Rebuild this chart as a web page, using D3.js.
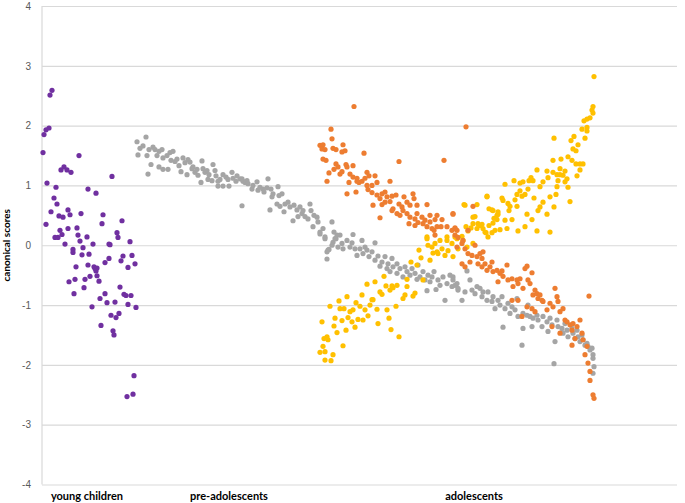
<!DOCTYPE html>
<html>
<head>
<meta charset="utf-8">
<script src="https://cdn.jsdelivr.net/npm/d3@7"></script>
<style>
  html, body { margin: 0; padding: 0; background: #fff; }
  svg { display: block; }
</style>
</head>
<body>
<svg id="chart" width="685" height="503"></svg>
<script>
// ---- data: [case index, canonical score] ----
const groupLabels = ["young children", "pre-adolescents", "adolescents"];
const groupLabelPos = [45, 187, 432];   // case index at label centre
const yTicks = [-4, -3, -2, -1, 0, 1, 2, 3, 4];

const youngChildren = [
[1,1.55],[2,1.85],[4,1.93],[7,1.96],[8,2.51],[10,2.59],[5,1.04],[14,0.97],[12,0.79],[15,0.69],[9,0.56],[4,0.35],
[19,1.26],[22,1.31],[25,1.26],[29,1.22],[37,1.5],[17,0.49],[21,0.47],[26,0.59],[28,0.51],[39,0.53],[46,0.94],[54,0.87],
[70,1.15],[61,0.51],[60,0.36],[80,0.41],[75,0.21],[76,0.13],[67,0.02],[68,0.01],[88,0.06],[13,0.13],[16,0.13],[18,0.25],
[20,0.18],[23,0.02],[26,0.28],[35,0.29],[36,0.17],[38,0.07],[41,-0.04],[45,0.14],[51,0.02],[31,-0.07],[31,-0.12],[40,-0.16],
[47,-0.15],[34,-0.36],[46,-0.33],[52,-0.36],[53,-0.39],[55,-0.38],[54,-0.43],[48,-0.52],[43,-0.57],[55,-0.51],[57,-0.6],
[33,-0.57],[27,-0.61],[32,-0.81],[42,-0.71],[50,-1.03],[58,-0.89],[63,-0.81],[65,-0.96],[59,-1.34],[69,-1.17],[74,-1.21],
[77,-1.14],[71,-1.43],[72,-1.5],[73,-0.95],[63,-0.29],[67,-0.22],[81,-0.18],[90,-0.17],[79,-0.26],[86,-0.37],[93,-0.31],
[78,-0.7],[82,-0.82],[84,-0.84],[89,-0.84],[86,-0.99],[94,-1.04],[92,-2.18],[91,-2.49],[85,-2.53]
];

const grayScores = [
[95,1.73],[104,1.81],[98,1.62],[101,1.66],[96,1.51],[105,1.5],[106,1.19],[109,1.35],[107,1.6],[111,1.64],[113,1.6],[115,1.5],
[117,1.31],[117,1.57],[120,1.6],[121,1.46],[121,1.27],[125,1.5],[126,1.27],[128,1.55],[129,1.42],[131,1.57],[133,1.4],[135,1.44],
[137,1.33],[139,1.23],[141,1.46],[143,1.38],[145,1.18],[146,1.43],[148,1.39],[150,1.28],[151,1.31],[153,1.22],[155,1.27],[156,1.17],
[159,1.05],[160,1.41],[161,1.28],[163,1.22],[165,1.25],[166,1.1],[167,1.18],[170,1.08],[171,1.35],[173,1.25],[174,1.16],[176,1.07],
[176,0.99],[178,1.1],[181,1.18],[181,0.99],[184,1.14],[186,1.1],[187,0.99],[190,1.22],[191,1.12],[194,1.07],[195,1.16],[198,1.11],
[201,1.07],[203,1.05],[205,1.08],[200,0.66],[200,1.11],[206,1.03],[210,0.94],[211,1.0],[215,1.06],[216,0.92],[218,0.97],[221,0.94],
[222,0.89],[226,1.11],[225,0.96],[229,0.94],[230,0.81],[231,0.86],[228,0.59],[235,0.69],[236,0.98],[237,0.83],[240,0.86],[238,0.65],
[242,0.56],[243,0.69],[246,0.72],[248,0.64],[251,0.41],[252,0.67],[255,0.59],[256,0.48],[258,0.64],[260,0.53],[261,0.58],[263,0.48],
[266,0.44],[268,0.69],[269,0.58],[271,0.31],[272,0.5],[275,0.47],[276,0.39],[278,0.22],[281,0.28],[283,0.11],[285,-0.11],[287,-0.07],
[290,0.39],[291,0.05],[294,0.11],[295,0.17],[285,-0.23],[292,0.22],[278,0.19],[283,0.14],[286,-0.08],[290,0.0],[293,0.11],[296,-0.03],
[298,0.17],[300,0.03],[301,-0.06],[305,0.08],[308,-0.03],[310,0.04],[311,0.18],[313,-0.06],[315,-0.17],[318,-0.06],[320,0.08],
[321,-0.14],[323,-0.03],[325,-0.08],[327,-0.19],[330,-0.11],[333,0.04],[333,-0.25],[336,-0.18],[338,-0.35],[340,-0.28],[343,-0.19],
[345,-0.39],[346,-0.31],[348,-0.44],[350,-0.22],[351,-0.36],[355,-0.47],[355,-0.31],[358,-0.39],[361,-0.53],[363,-0.36],[365,-0.44],
[368,-0.5],[370,-0.39],[373,-0.47],[375,-0.57],[376,-0.33],[378,-0.53],[381,-0.44],[383,-0.58],[385,-0.76],[386,-0.5],[388,-0.61],
[390,-0.53],[392,-0.44],[394,-0.74],[396,-0.58],[398,-0.67],[401,-0.53],[403,-0.92],[405,-0.64],[408,-0.5],[410,-0.69],[411,-0.58],
[415,-0.64],[416,-0.75],[411,-0.53],[413,-0.67],[416,-0.72],[420,-0.92],[423,-0.78],[425,-0.43],[428,-0.58],[430,-0.75],[433,-0.81],
[435,-0.69],[438,-0.72],[440,-0.86],[441,-0.78],[445,-0.92],[446,-0.78],[450,-0.94],[451,-0.86],[453,-1.06],[456,-0.92],[458,-1.0],
[460,-0.86],[461,-1.37],[463,-1.06],[466,-0.97],[468,-1.14],[470,-1.03],[473,-1.08],[475,-0.89],[476,-1.19],[480,-1.67],[481,-1.14],
[481,-1.39],[485,-1.17],[486,-1.0],[488,-1.19],[490,-1.36],[491,-1.22],[495,-1.17],[496,-1.25],[500,-1.36],[501,-1.19],[505,-1.28],
[506,-1.44],[508,-1.22],[510,-1.33],[512,-1.98],[513,-1.61],[515,-1.25],[516,-1.36],[520,-1.39],[521,-1.47],[523,-1.31],[525,-1.42],
[526,-1.53],[530,-1.39],[531,-1.47],[533,-1.56],[535,-1.42],[536,-1.53],[538,-1.61],[540,-1.5],[541,-1.58],[543,-1.67],[545,-1.64],
[546,-1.69],[548,-1.75],[550,-1.72],[551,-1.83],[551,-1.89],[552,-2.03],[551,-2.14]
];

const yellowScores = [
[280,-1.28],[282,-1.56],[285,-1.53],[286,-1.58],[281,-1.69],[283,-1.78],[278,-1.79],[283,-1.92],[289,-1.93],[291,-1.83],[288,-1.02],
[292,-1.35],[293,-1.22],[295,-1.46],[297,-0.93],[298,-1.06],[300,-1.26],[301,-1.68],[302,-1.06],[304,-1.42],[305,-0.86],[306,-1.21],
[308,-1.11],[310,-1.28],[311,-1.08],[313,-1.37],[314,-0.96],[316,-1.24],[318,-1.02],[320,-0.83],[321,-1.25],[323,-1.08],[325,-0.65],
[326,-1.18],[328,-1.0],[330,-0.91],[331,-0.91],[333,-0.61],[335,-1.07],[336,-1.31],[338,-0.78],[340,-0.82],[342,-0.52],[344,-0.68],
[345,-1.08],[347,-1.22],[348,-0.75],[350,-0.68],[351,-0.71],[354,-1.02],[355,-0.67],[357,-1.53],[349,-1.41],[361,-0.89],[363,-0.83],
[365,-0.69],[365,-0.57],[369,-0.28],[371,-0.85],[373,-0.8],[375,-0.33],[377,-0.08],[379,-0.21],[381,-0.58],[385,0.14],[386,0.0],
[388,-0.25],[391,-0.13],[393,0.03],[396,-0.14],[398,0.08],[400,-0.06],[403,-0.17],[405,0.14],[406,-0.09],[410,0.03],[411,-0.19],
[415,0.11],[416,-0.06],[422,0.68],[435,0.68],[445,0.81],[451,0.58],[431,0.47],[440,0.35],[385,0.11],[390,-0.03],[395,-0.11],
[405,0.08],[413,0.14],[421,0.08],[425,-0.03],[431,0.03],[435,0.28],[438,0.33],[443,0.22],[446,0.14],[453,0.25],[455,0.5],[456,0.56],
[552,2.82],[551,2.32],[550,2.26],[551,2.21],[548,2.13],[545,2.11],[542,2.08],[540,1.94],[545,1.97],[545,1.91],[543,1.79],[532,1.82],
[529,1.75],[512,1.79],[536,1.68],[531,1.61],[534,1.58],[526,1.48],[519,1.44],[511,1.42],[530,1.42],[534,1.36],[538,1.36],[541,1.36],
[538,1.26],[535,1.16],[495,1.26],[505,1.24],[511,1.22],[515,1.18],[518,1.28],[523,1.24],[521,1.17],[518,1.18],[525,1.11],[516,1.08],
[523,1.06],[526,0.97],[506,1.13],[501,1.06],[498,0.98],[489,1.13],[491,1.08],[487,1.08],[481,1.06],[472,1.08],[478,1.04],[463,1.02],
[486,0.94],[478,0.91],[475,0.85],[480,0.82],[483,0.85],[492,0.79],[515,0.98],[508,0.81],[514,0.85],[528,0.73],[512,0.64],[505,0.52],
[498,0.64],[501,0.72],[496,0.58],[490,0.43],[485,0.52],[483,0.31],[495,0.24],[508,0.22],[476,0.24],[473,0.76],[468,0.65],[466,0.7],
[461,0.75],[460,0.79],[467,0.58],[475,0.65],[470,0.43],[463,0.42],[465,0.28],[456,0.52],[455,0.43],[452,0.45],[451,0.37],[447,0.33],
[445,0.82],[447,0.61],[450,0.59],[458,0.26],[450,0.21],[444,0.21],[441,0.28],[439,0.33],[436,0.36],[433,0.48],[431,0.36],[429,0.29],
[423,0.67],[424,0.31],[420,0.15],[426,0.24],[414,0.14]
];

const orangeScores = [
[312,2.32],[289,1.94],[290,1.78],[278,1.67],[281,1.68],[280,1.61],[283,1.6],[291,1.62],[294,1.6],[301,1.68],[300,1.56],[303,1.58],
[281,1.44],[284,1.42],[294,1.36],[296,1.31],[304,1.35],[305,1.31],[311,1.33],[322,1.54],[357,1.4],[402,1.42],[287,1.21],[292,1.27],
[298,1.19],[300,1.23],[308,1.19],[311,1.14],[315,1.12],[317,1.05],[320,1.07],[323,1.12],[325,1.22],[327,1.16],[333,1.16],[285,1.07],
[307,1.05],[315,1.07],[325,1.0],[330,1.0],[335,1.05],[348,1.07],[305,0.86],[314,0.89],[326,0.93],[330,0.88],[335,0.84],[338,0.78],
[340,0.86],[343,0.89],[345,0.81],[350,0.82],[354,0.84],[362,0.81],[371,0.86],[372,0.78],[331,0.67],[340,0.68],[343,0.72],[348,0.73],
[351,0.61],[357,0.69],[360,0.64],[365,0.72],[368,0.67],[375,0.67],[385,0.68],[338,0.46],[350,0.58],[355,0.53],[358,0.5],[361,0.58],
[365,0.53],[368,0.47],[373,0.44],[375,0.53],[380,0.47],[383,0.42],[388,0.5],[393,0.43],[395,0.5],[400,0.43],[411,0.53],[367,0.36],
[373,0.33],[376,0.38],[381,0.36],[385,0.31],[388,0.39],[390,0.28],[392,0.25],[395,0.31],[399,0.31],[405,0.31],[410,0.25],[413,0.29],
[415,0.25],[393,0.17],[413,0.17],[416,0.13],[420,0.03],[421,0.08],[415,-0.03],[423,-0.06],[426,-0.14],[430,-0.17],[433,0.0],[435,-0.19],
[438,-0.14],[440,-0.22],[441,-0.11],[420,-0.31],[423,-0.36],[428,-0.28],[436,-0.31],[440,-0.36],[443,-0.31],[445,-0.42],[448,-0.36],
[450,-0.28],[451,-0.44],[455,-0.42],[458,-0.47],[460,-0.43],[461,-0.52],[456,-0.61],[465,-0.33],[466,-0.58],[470,-0.56],[471,-0.69],
[475,-0.58],[476,-0.64],[478,-0.56],[481,-0.72],[483,-0.39],[485,-0.35],[486,-0.58],[488,-0.64],[490,-0.46],[491,-0.83],[493,-0.75],
[495,-0.81],[496,-0.89],[498,-0.83],[500,-0.92],[501,-0.94],[470,-0.92],[476,-0.92],[480,-1.19],[485,-1.03],[490,-1.06],[493,-1.11],
[505,-1.08],[508,-0.97],[511,-1.03],[513,-0.72],[515,-0.86],[516,-0.94],[518,-1.11],[521,-1.06],[523,-1.25],[525,-1.28],[528,-1.33],
[530,-1.42],[531,-1.31],[535,-1.36],[538,-1.25],[540,-1.47],[541,-1.58],[510,-1.36],[518,-1.47],[530,-1.67],[533,-1.56],[543,-1.83],
[545,-1.69],[546,-1.97],[547,-0.85],[548,-2.11],[548,-2.26],[551,-2.5],[552,-2.56],[424,1.98],[431,0.65],[411,0.52],[413,0.28],[426,0.25]
];

// ---- chart ----
const svg = d3.select("#chart");
const W = 685, H = 503;
const plot = { left: 42, right: 677, top: 6, bottom: 484.5 };

svg.append("rect").attr("width", W).attr("height", H).attr("fill", "#fff");

const x = d3.scaleLinear().domain([0, 635]).range([plot.left, plot.right]);
const y = d3.scaleLinear().domain([-4, 4]).range([plot.bottom, plot.top]);

// gridlines
svg.append("g")
  .attr("transform", `translate(${plot.left},0)`)
  .call(d3.axisLeft(y).tickValues(yTicks).tickSize(-(plot.right - plot.left)).tickFormat(""))
  .call(g => g.select(".domain").remove())
  .call(g => g.selectAll("line").attr("stroke", "#d9d9d9").attr("stroke-width", 1.2));

// left axis line
svg.append("line")
  .attr("x1", plot.left).attr("x2", plot.left)
  .attr("y1", y(4)).attr("y2", y(-4))
  .attr("stroke", "#d9d9d9").attr("stroke-width", 1.2);

// tick labels (hyphen-minus as in the reference)
svg.append("g")
  .attr("transform", `translate(${plot.left},0)`)
  .call(d3.axisLeft(y).tickValues(yTicks).tickSize(0).tickPadding(11).tickFormat(d => String(d)))
  .call(g => g.select(".domain").remove())
  .call(g => g.selectAll("text")
    .attr("fill", "#595959")
    .style("font-family", "'Liberation Sans', Arial, sans-serif")
    .style("font-size", "10px"));

// y title
svg.append("text")
  .attr("transform", `translate(10,${y(0)}) rotate(-90)`)
  .attr("text-anchor", "middle")
  .style("font-family", "Lato, 'Noto Sans', sans-serif")
  .style("font-weight", "bold")
  .style("font-size", "10px")
  .attr("fill", "#000")
  .text("canonical scores");

// group labels
svg.append("g").selectAll("text")
  .data(groupLabels)
  .join("text")
  .attr("x", (d, i) => x(groupLabelPos[i]))
  .attr("y", 500)
  .attr("text-anchor", "middle")
  .style("font-family", "Lato, 'Noto Sans', sans-serif")
  .style("font-weight", "bold")
  .style("font-size", "11px")
  .attr("fill", "#000")
  .text(d => d);

// series
const series = [
  { data: youngChildren, color: "#7030a0" },
  { data: grayScores, color: "#a5a5a5" },
  { data: yellowScores, color: "#ffc000" },
  { data: orangeScores, color: "#ed7d31" }
];

series.forEach(s => {
  svg.append("g").selectAll("circle")
    .data(s.data)
    .join("circle")
    .attr("cx", d => x(d[0]))
    .attr("cy", d => y(d[1]))
    .attr("r", 2.6)
    .attr("fill", s.color);
});
</script>
</body>
</html>
